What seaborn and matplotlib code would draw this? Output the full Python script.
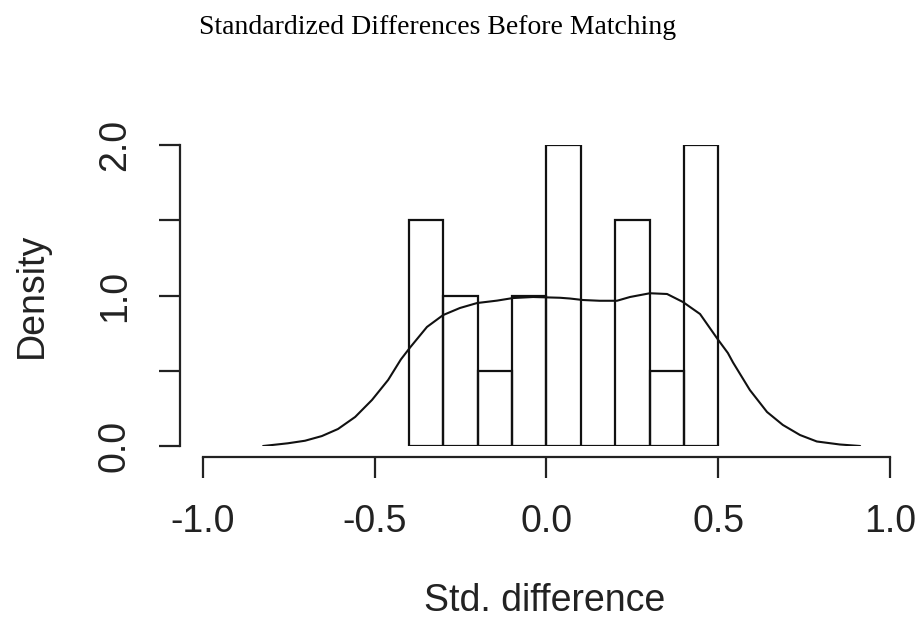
import numpy as np
import pandas as pd
import matplotlib
matplotlib.use('Agg')
import matplotlib.pyplot as plt
import seaborn as sns

# histogram: bin edges and counts per bin (n = 20)
bin_edges = [-0.4, -0.3, -0.2, -0.1, 0.0, 0.1, 0.2, 0.3, 0.4, 0.5]
bin_counts = [3, 2, 1, 2, 4, 0, 3, 1, 4]

# density curve
dens_x = [-0.825, -0.753, -0.703, -0.654, -0.607, -0.557, -0.508, -0.461, -0.424, -0.397,
          -0.348, -0.301, -0.252, -0.202, -0.144, -0.098, -0.039, 0.039, 0.068, 0.106,
          0.155, 0.205, 0.243, 0.301, 0.351, 0.397, 0.447, 0.497, 0.528, 0.543,
          0.592, 0.642, 0.688, 0.738, 0.787, 0.854, 0.913]
dens_y = [0.0, 0.018, 0.035, 0.066, 0.113, 0.193, 0.306, 0.439, 0.575, 0.655,
          0.791, 0.870, 0.917, 0.950, 0.966, 0.983, 0.990, 0.985, 0.980, 0.970,
          0.965, 0.965, 0.990, 1.015, 1.010, 0.957, 0.877, 0.714, 0.618, 0.555,
          0.372, 0.226, 0.140, 0.073, 0.030, 0.010, 0.0]

x_ticks = [-1.0, -0.5, 0.0, 0.5, 1.0]
x_ticklabels = ['-1.0', '-0.5', '0.0', '0.5', '1.0']
y_ticks = [0.0, 0.5, 1.0, 1.5, 2.0]
y_ticklabels = ['0.0', '', '1.0', '', '2.0']

mids = [(a + b) / 2 for a, b in zip(bin_edges[:-1], bin_edges[1:])]
sample = pd.DataFrame({'d': np.repeat(mids, bin_counts)})
curve = pd.DataFrame({'x': dens_x, 'y': dens_y})

sns.set_style('white')
plt.rcParams['font.family'] = ['Liberation Sans', 'DejaVu Sans']

fig = plt.figure(figsize=(9.2, 6.19), dpi=100)
ax = fig.add_axes([203 / 920, 1 - 446 / 619, 687 / 920, 301 / 619])

sns.histplot(data=sample, x='d', bins=bin_edges, stat='density', fill=False,
             element='bars', color='#111111', linewidth=1.6, ax=ax)
sns.lineplot(data=curve, x='x', y='y', color='#111111', linewidth=1.5, ax=ax)

ax.set_xlim(-1.0, 1.0)
ax.set_ylim(0.0, 2.0)
ax.set_xlabel('')
ax.set_ylabel('')

for s in ['top', 'right']:
    ax.spines[s].set_visible(False)
ax.spines['bottom'].set_position(('outward', 8))
ax.spines['left'].set_position(('outward', 16.5))
ax.spines['bottom'].set_bounds(-1.0, 1.0)
ax.spines['left'].set_bounds(0.0, 2.0)
for s in ['bottom', 'left']:
    ax.spines[s].set_color('#222222')
    ax.spines[s].set_linewidth(1.6)

ax.set_xticks(x_ticks)
ax.set_xticklabels(x_ticklabels)
ax.set_yticks(y_ticks)
ax.set_yticklabels(y_ticklabels, rotation=90, va='center')
ax.tick_params(axis='both', which='major', direction='out', length=15,
               width=1.6, color='#222222', labelsize=27, labelcolor='#222222',
               bottom=True, left=True)
ax.tick_params(axis='x', pad=19)
ax.tick_params(axis='y', pad=19)

fig.text(438 / 920, 1 - 28 / 619, 'Standardized Differences Before Matching',
         ha='center', va='center', fontsize=20, family='Liberation Serif', color='black')
fig.text(545 / 920, 1 - 601 / 619, 'Std. difference', ha='center', va='center',
         fontsize=27, color='#222222')
fig.text(32 / 920, 1 - 295 / 619, 'Density', ha='center', va='center',
         fontsize=27, rotation=90, color='#222222')

fig.savefig('out.png', dpi=100, facecolor='white')
